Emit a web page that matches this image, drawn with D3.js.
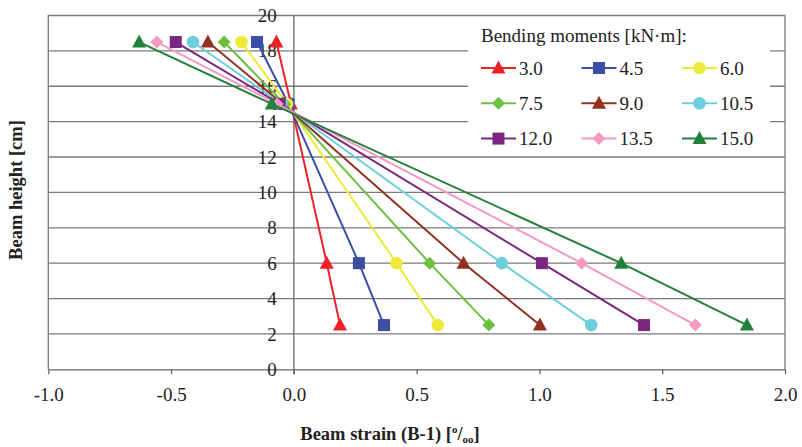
<!DOCTYPE html>
<html>
<head>
<meta charset="utf-8">
<script src="https://cdn.jsdelivr.net/npm/d3@7"></script>
<style>
  html, body { margin: 0; padding: 0; background: #fff; }
  svg { display: block; }
  svg text { font-family: 'Liberation Serif', Tinos, 'Times New Roman', Times, 'DejaVu Serif', serif; fill: #222; }
</style>
</head>
<body>
<svg id="chart" width="802" height="447"></svg>
<script>
// Strain profiles across the beam depth for each bending moment
const moments = ["3.0", "4.5", "6.0", "7.5", "9.0", "10.5", "12.0", "13.5", "15.0"];
const heights = [18.5, 15, 6, 2.5];            // gauge heights [cm]
const strain = [                               // strain [‰] at each height
  [-0.071, -0.012, 0.134, 0.188],
  [-0.150, -0.022, 0.265, 0.367],
  [-0.213, -0.028, 0.418, 0.586],
  [-0.284, -0.038, 0.553, 0.794],
  [-0.350, -0.045, 0.691, 1.002],
  [-0.411, -0.050, 0.847, 1.211],
  [-0.481, -0.058, 1.010, 1.426],
  [-0.558, -0.068, 1.172, 1.635],
  [-0.630, -0.090, 1.333, 1.845]
];
const colors = ["#ee2226", "#3a4ea5", "#eeea3c", "#6cc040", "#933120",
                "#6dcfdc", "#7b2680", "#f49ac2", "#22803a"];
const shapes = ["triangle", "square", "circle", "diamond", "triangle",
                "circle", "square", "diamond", "triangle"];
const xTicks = [-1.0, -0.5, 0.0, 0.5, 1.0, 1.5, 2.0];
const yTicks = [0, 2, 4, 6, 8, 10, 12, 14, 16, 18, 20];

const FONT = "'Liberation Serif', Tinos, 'Times New Roman', Times, 'DejaVu Serif', serif";
const svg = d3.select("#chart");
const x = d3.scaleLinear().domain([-1, 2]).range([48.3, 785]);
const y = d3.scaleLinear().domain([0, 20]).range([369.3, 15.5]);
const gridColor = "#7a7a7a";

// horizontal gridlines
svg.append("g").selectAll("line")
  .data(yTicks.filter(d => d > 0 && d < 20))
  .join("line")
  .attr("x1", x(-1)).attr("x2", x(2))
  .attr("y1", d => y(d)).attr("y2", d => y(d))
  .attr("stroke", gridColor).attr("stroke-width", 1.3);

// plot frame (left, top, right)
svg.append("path")
  .attr("d", `M${x(-1)},${y(0)}V${y(20)}H${x(2)}V${y(0)}`)
  .attr("fill", "none").attr("stroke", gridColor).attr("stroke-width", 1.3);

// x axis along zero height
const xAxis = svg.append("g")
  .attr("transform", `translate(0,${y(0)})`)
  .call(d3.axisBottom(x).tickValues(xTicks).tickFormat(d => d.toFixed(1))
        .tickSize(5).tickSizeOuter(0).tickPadding(13));
xAxis.attr("font-family", FONT);
xAxis.select(".domain").attr("stroke", "#666").attr("stroke-width", 1.3);
xAxis.selectAll(".tick line").attr("stroke", "#666").attr("stroke-width", 1.3);
xAxis.selectAll("text").attr("font-size", 19).attr("fill", "#222");

// y axis along zero strain
const yAxis = svg.append("g")
  .attr("transform", `translate(${x(0)},0)`)
  .call(d3.axisLeft(y).tickValues(yTicks).tickSize(0).tickSizeOuter(0).tickPadding(17));
yAxis.attr("font-family", FONT);
yAxis.select(".domain").attr("stroke", "#666").attr("stroke-width", 1.3)
  .attr("d", `M0,${y(20)}V${y(0) + 5}`);
yAxis.selectAll("text").attr("font-size", 19).attr("fill", "#222");

// marker generator
function marker(sel, shape, color) {
  if (shape === "circle") {
    sel.append("circle").attr("r", 6.3).attr("fill", color);
  } else if (shape === "square") {
    sel.append("rect").attr("x", -6).attr("y", -6).attr("width", 12).attr("height", 12).attr("fill", color);
  } else if (shape === "triangle") {
    sel.append("path").attr("d", "M0,-7.5L7,5.5L-7,5.5Z").attr("fill", color);
  } else {
    sel.append("path").attr("d", "M0,-6.5L6.5,0L0,6.5L-6.5,0Z").attr("fill", color);
  }
}

const line = d3.line().x(d => x(d[0])).y(d => y(d[1]));

// legend panel
const lg = svg.append("g").attr("font-family", FONT);
lg.append("rect").attr("x", 468).attr("y", 20).attr("width", 302).attr("height", 133).attr("fill", "#fff");

// series
moments.forEach((m, i) => {
  const pts = heights.map((h, j) => [strain[i][j], h]);
  const g = svg.append("g");
  g.append("path").datum(pts).attr("d", line)
    .attr("fill", "none").attr("stroke", colors[i]).attr("stroke-width", 2);
  g.selectAll("g.pt").data(pts).join("g").attr("class", "pt")
    .attr("transform", d => `translate(${x(d[0])},${y(d[1])})`)
    .each(function () { marker(d3.select(this), shapes[i], colors[i]); });
});

// legend entries
lg.raise();
lg.append("text").attr("x", 481).attr("y", 42).attr("font-size", 19)
  .text("Bending moments [kN\u00b7m]:");
moments.forEach((m, i) => {
  const col = i % 3, row = Math.floor(i / 3);
  const lx = 481 + col * 100.5, ly = 68 + row * 35.3;
  const item = lg.append("g");
  item.append("line").attr("x1", lx).attr("x2", lx + 35).attr("y1", ly).attr("y2", ly)
    .attr("stroke", colors[i]).attr("stroke-width", 2);
  marker(item.append("g").attr("transform", `translate(${lx + 17.5},${ly})`), shapes[i], colors[i]);
  item.append("text").attr("x", lx + 38).attr("y", ly + 6.5).attr("font-size", 19).text(m);
});

// axis titles
svg.append("text")
  .attr("transform", `translate(22,190) rotate(-90)`)
  .attr("font-family", FONT)
  .attr("text-anchor", "middle").attr("font-size", 18.5).attr("font-weight", "bold")
  .text("Beam height [cm]");

const xt = svg.append("text").attr("x", 390).attr("y", 440)
  .attr("font-family", FONT)
  .attr("text-anchor", "middle").attr("font-size", 18.5).attr("font-weight", "bold");
xt.append("tspan").text("Beam strain (B-1) [");
xt.append("tspan").attr("font-size", 11).attr("dy", -7).text("o");
xt.append("tspan").attr("dy", 7).text("/");
xt.append("tspan").attr("font-size", 11).attr("dy", 3).text("oo");
xt.append("tspan").attr("dy", -3).text("]");
</script>
</body>
</html>
